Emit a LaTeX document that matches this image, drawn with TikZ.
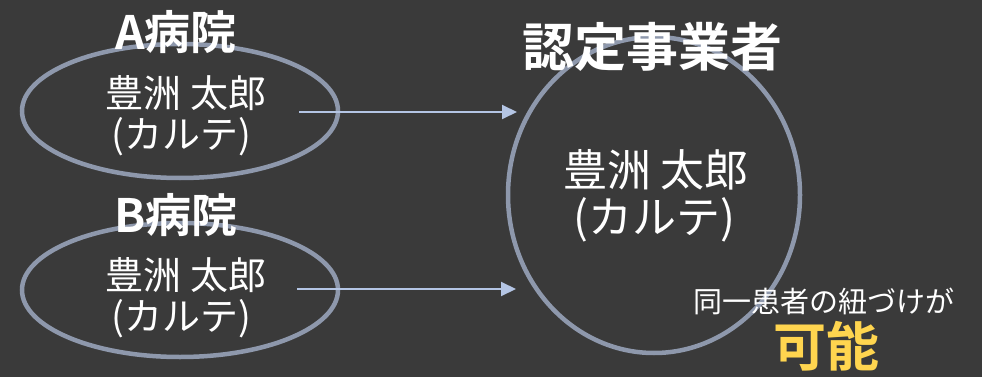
\documentclass[tikz,border=0pt]{standalone}
\usepackage{fontspec}
\setmainfont{Noto Sans CJK JP}[BoldFont={Noto Sans CJK JP Bold}]
\usetikzlibrary{shapes.geometric, arrows.meta}
\definecolor{bgdark}{HTML}{3A3A3A}
\definecolor{rimgray}{HTML}{8E98AC}
\definecolor{arrowblue}{HTML}{B4C5E4}
\definecolor{okyellow}{HTML}{FFD54F}
\tikzset{
  x=1pt, y=-1pt,
  rim/.style={ellipse, draw=rimgray, line width=4.5pt, inner sep=0pt},
  link/.style={draw=arrowblue, line width=2pt, -{Triangle[length=15pt, width=14pt]}},
  heading/.style={text=white, font=\bfseries\fontsize{46}{50}\selectfont},
  patient/.style={text=white, font=\fontsize{38}{42}\selectfont},
}

\begin{document}
\begin{tikzpicture}
      \fill[bgdark] (0,0) rectangle (982,377);
      \useasboundingbox (0,0) rectangle (982,377);

      % hospitals and the certified operator
      \node[rim, minimum width=316pt, minimum height=134pt] (hospA) at (180,111) {};
      \node[rim, minimum width=316pt, minimum height=134pt] (hospB) at (180,290) {};
      \node[rim, minimum width=292pt, minimum height=316pt] (agent) at (654,195) {};

      \node[heading] (nameA) at (176,32) {A病院};
      \node[patient] (ptA)   at (186,93) {豊洲 太郎};
      \node[patient] (chtA)  at (181,137) {(カルテ)};

      \node[heading] (nameB) at (176,215) {B病院};
      \node[patient] (ptB)   at (186,275) {豊洲 太郎};
      \node[patient] (chtB)  at (181,319) {(カルテ)};

      \node[heading, font=\bfseries\fontsize{52}{56}\selectfont] (nameC) at (652,47) {認定事業者};
      \node[patient, font=\fontsize{44}{48}\selectfont] (ptC)  at (656,170) {豊洲 太郎};
      \node[patient, font=\fontsize{44}{48}\selectfont] (chtC) at (654,220) {(カルテ)};

      \node[text=white, font=\fontsize{29}{32}\selectfont] (note) at (824,301) {同一患者の紐づけが};
      \node[text=okyellow, font=\bfseries\fontsize{53}{56}\selectfont] (able) at (826,346) {可能};

      \coordinate (fromA) at (299,112);
      \coordinate (toA)   at (517,112);
      \coordinate (fromB) at (297,289);
      \coordinate (toB)   at (516,289);

      \draw[link] (fromA) -- (toA);
      \draw[link] (fromB) -- (toB);
\end{tikzpicture}
\end{document}
